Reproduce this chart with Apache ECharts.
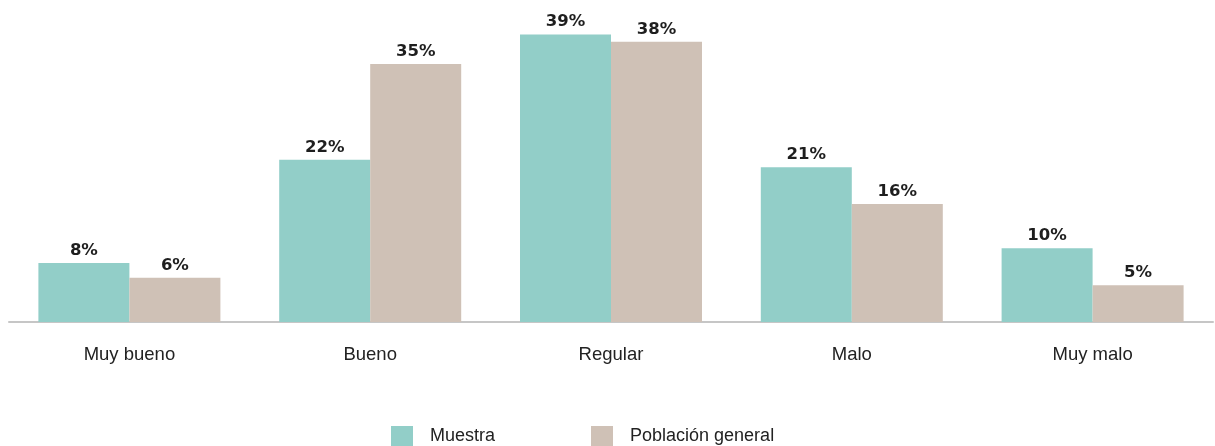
<!DOCTYPE html>
<html>
<head>
<meta charset="utf-8">
<script src="https://cdn.jsdelivr.net/npm/echarts@6/dist/echarts.min.js"></script>
<style>
  html, body { margin: 0; padding: 0; background: #fff; }
  #chart { width: 1215px; height: 446px; }
</style>
</head>
<body>
<div id="chart"></div>
<script>
const categories = ['Muy bueno', 'Bueno', 'Regular', 'Malo', 'Muy malo'];
const muestra = [8, 22, 39, 21, 10];
const poblacion = [6, 35, 38, 16, 5];
const seriesNames = ['Muestra', 'Población general'];

const font = '"Liberation Sans", Arial, Helvetica, sans-serif';
const labelStyle = {
  show: true,
  position: 'top',
  distance: 4,
  formatter: '{c}%',
  fontFamily: '"DejaVu Sans", sans-serif',
  fontWeight: 'bold',
  fontSize: 16.5,
  color: '#1e1e1e'
};

const chart = echarts.init(document.getElementById('chart'));
chart.setOption({
  animation: false,
  grid: { left: 9, right: 2, top: 27, bottom: 124, containLabel: false },
  legend: {
    data: seriesNames,
    left: 386,
    bottom: -6,
    itemWidth: 22,
    itemHeight: 21,
    itemGap: 96,
    icon: 'rect',
    textStyle: { fontFamily: font, fontSize: 18, color: '#222', padding: [0, 0, 0, 12] }
  },
  xAxis: {
    type: 'category',
    data: categories,
    axisLine: { lineStyle: { color: '#c6c6c6', width: 2 } },
    axisTick: { show: false },
    axisLabel: { fontFamily: font, fontSize: 18.5, color: '#222', margin: 23 }
  },
  yAxis: {
    type: 'value',
    min: 0,
    max: 40,
    show: false,
    splitLine: { show: false }
  },
  series: [
    {
      name: seriesNames[0],
      type: 'bar',
      data: muestra,
      barWidth: 91,
      barGap: '0%',
      itemStyle: { color: '#92cec8' },
      label: labelStyle
    },
    {
      name: seriesNames[1],
      type: 'bar',
      data: poblacion,
      barWidth: 91,
      barGap: '0%',
      itemStyle: { color: '#cfc1b6' },
      label: labelStyle
    }
  ]
});
</script>
</body>
</html>
